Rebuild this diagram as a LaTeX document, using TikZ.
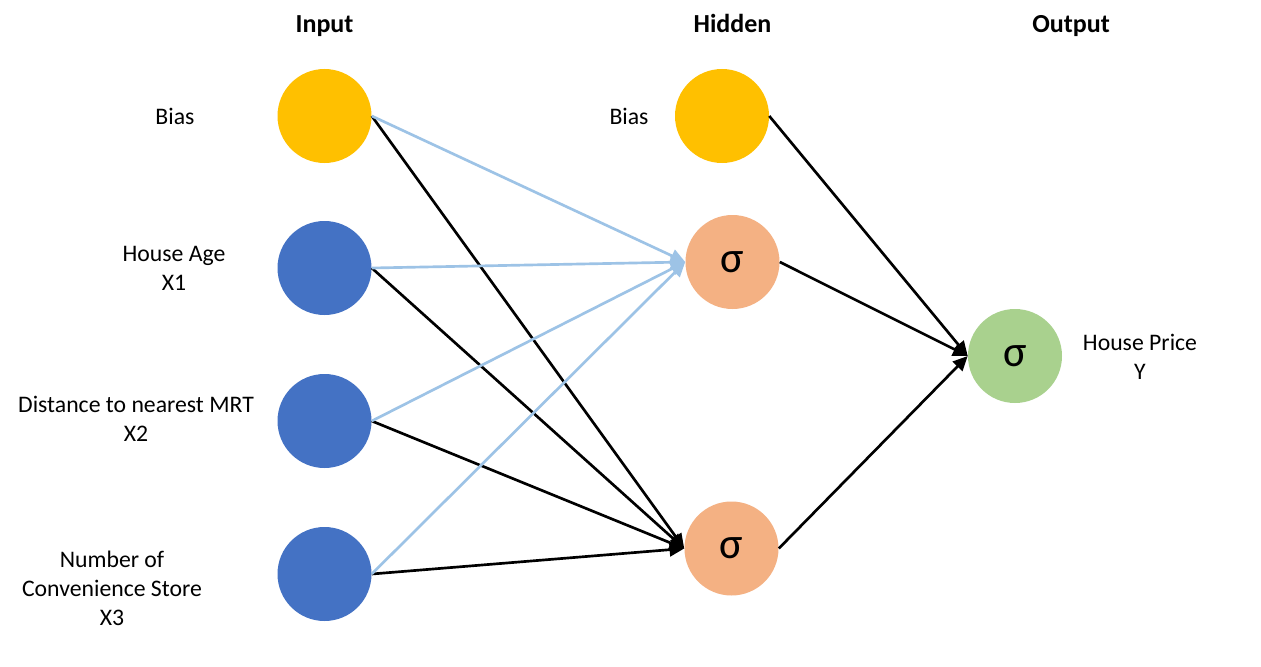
\documentclass[tikz,border=0pt]{standalone}
\usepackage{fontspec}
\setmainfont{Carlito}
\usetikzlibrary{arrows.meta}
\definecolor{cyellow}{HTML}{FFC000}
\definecolor{cblue}{HTML}{4472C4}
\definecolor{corange}{HTML}{F4B183}
\definecolor{cgreen}{HTML}{A9D18E}
\definecolor{clblue}{HTML}{9DC3E6}
\begin{document}
\begin{tikzpicture}[x=0.75pt,y=-0.75pt,
  neuron/.style={circle,minimum size=70.5pt,inner sep=0pt,draw=none},
  lbl/.style={align=center,font=\fontsize{17.8}{21.75}\selectfont,inner sep=0pt},
  head/.style={font=\fontsize{19.5}{22}\selectfont\bfseries,inner sep=0pt,anchor=base},
  sig/.style={font=\fontsize{33}{36}\selectfont},
  blk/.style={draw=black,line width=2pt,-{Triangle[length=11pt,width=10pt]}},
  lbl2/.style={draw=clblue,line width=2pt,-{Triangle[length=11pt,width=10pt]}}
]
\useasboundingbox (0,0) rectangle (1261,667);
\fill[white] (0,0) rectangle (1261,667);
% headings
\node[head] (hin) at (324.5,33) {Input};
\node[head] (hhid) at (732.5,33) {Hidden};
\node[head] (hout) at (1071,33) {Output};
% neurons
\node[neuron,fill=cyellow] (b1) at (324.5,116) {};
\node[neuron,fill=cblue] (x1) at (324.5,268) {};
\node[neuron,fill=cblue] (x2) at (324.5,421) {};
\node[neuron,fill=cblue] (x3) at (324.5,574) {};
\node[neuron,fill=cyellow] (b2) at (722,116) {};
\node[neuron,fill=corange,sig] (h1) at (732.5,262) {σ};
\node[neuron,fill=corange,sig] (h2) at (731.5,548.5) {σ};
\node[neuron,fill=cgreen,sig] (o) at (1015,356) {σ};
% labels
\node[lbl] (lb1) at (175,116) {Bias};
\node[lbl] (lx1) at (174,268) {House Age\\X1};
\node[lbl] (lx2) at (136,419) {Distance to nearest MRT\\X2};
\node[lbl] (lx3) at (112,588) {Number of\\Convenience Store\\X3};
\node[lbl] (lb2) at (629,116) {Bias};
\node[lbl] (lo) at (1140,357) {House Price\\Y};
% connections
\draw[blk] (b1.east) -- (h2.west);
\draw[blk] (x1.east) -- (h2.west);
\draw[blk] (x2.east) -- (h2.west);
\draw[blk] (x3.east) -- (h2.west);
\draw[lbl2] (b1.east) -- (h1.west);
\draw[lbl2] (x1.east) -- (h1.west);
\draw[lbl2] (x2.east) -- (h1.west);
\draw[lbl2] (x3.east) -- (h1.west);
\draw[blk] (b2.east) -- (o.west);
\draw[blk] (h1.east) -- (o.west);
\draw[blk] (h2.east) -- (o.west);
\end{tikzpicture}
\end{document}
